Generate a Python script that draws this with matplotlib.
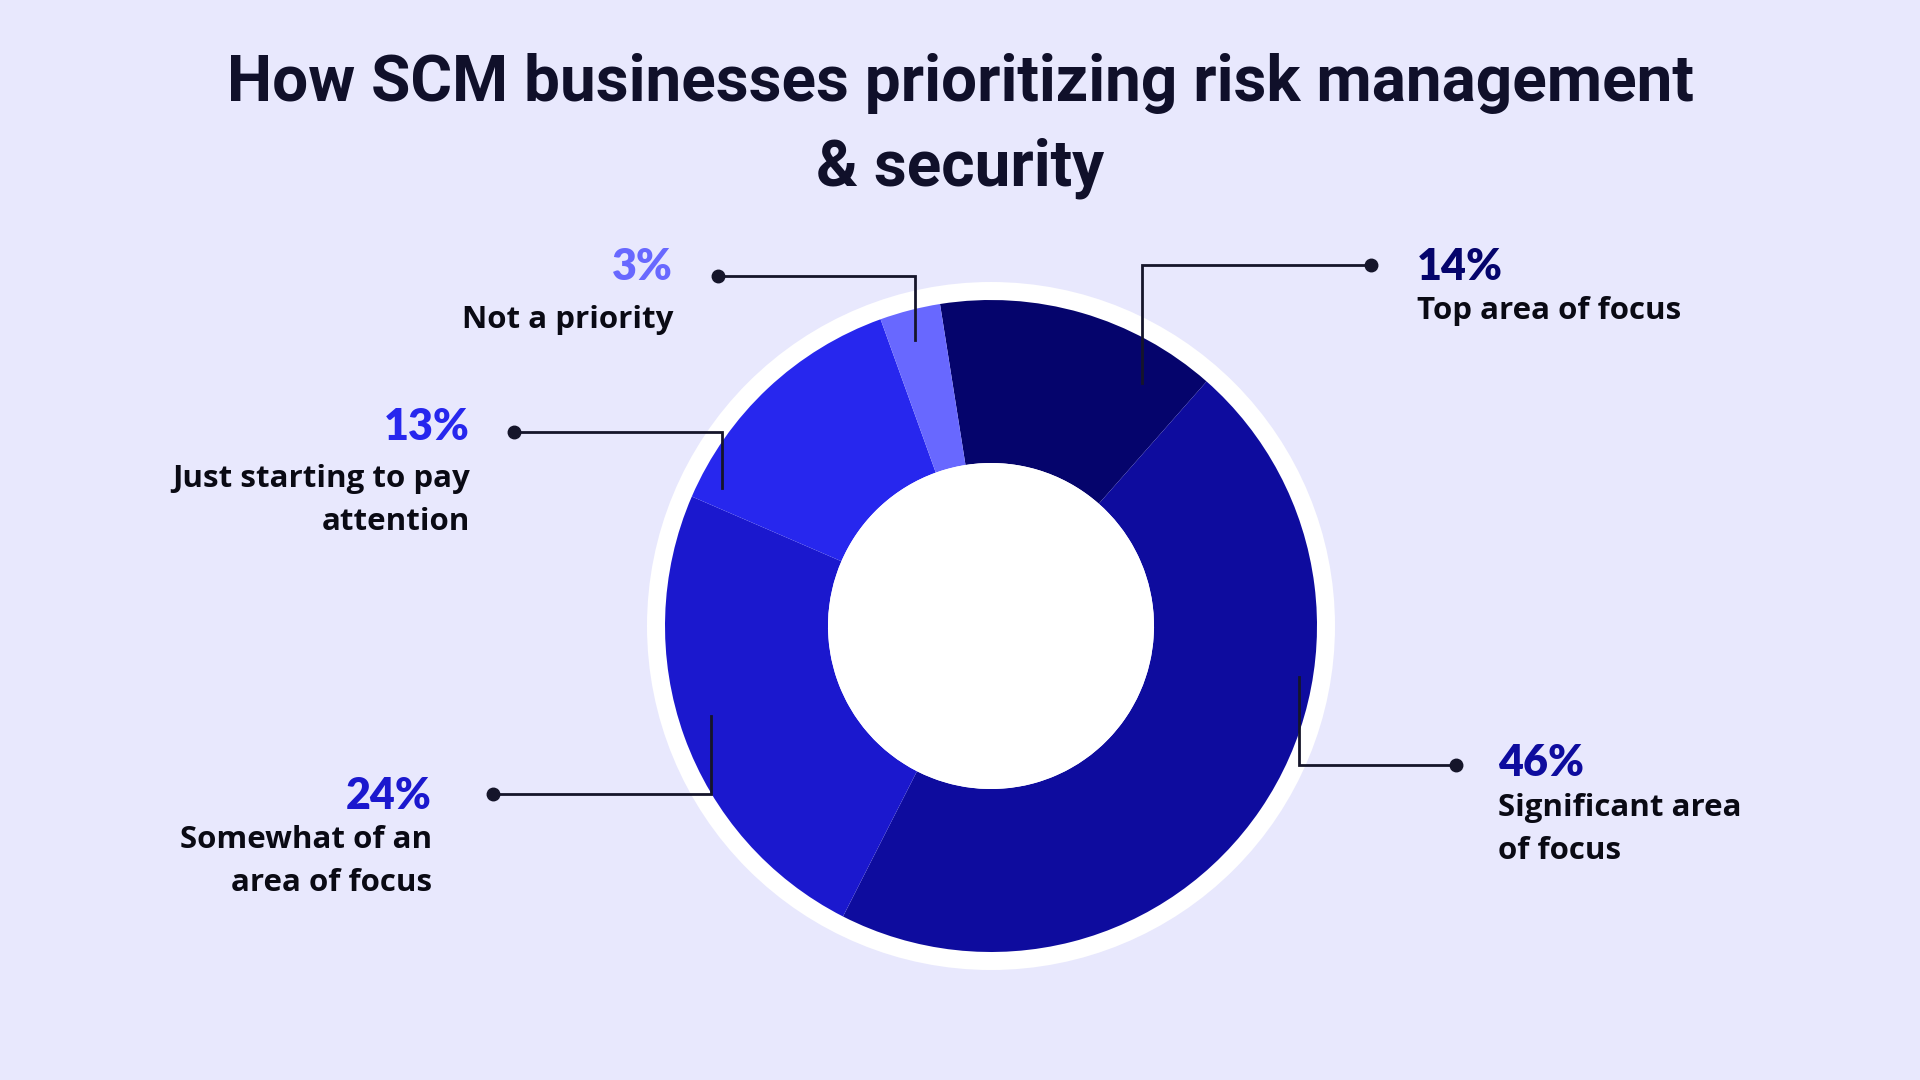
import matplotlib
matplotlib.use("Agg")
import matplotlib.pyplot as plt
from matplotlib.patches import Circle

# ---------------- data ----------------
categories = ["Top area of focus", "Significant area of focus",
              "Somewhat of an area of focus", "Just starting to pay attention",
              "Not a priority"]
values = [14, 46, 24, 13, 3]
label_lines = [["Top area of focus"],
               ["Significant area", "of focus"],
               ["Somewhat of an", "area of focus"],
               ["Just starting to pay", "attention"],
               ["Not a priority"]]
colors = ["#05046C", "#0E0C9E", "#1B18CE", "#2727EE", "#6868FF"]
title_lines = ["How SCM businesses prioritizing risk management", "& security"]

# ---------------- layout ----------------
W, H = 1920, 1080
BG = "#E8E8FD"
LINE = "#15152A"

def Y(y):  # convert top-down pixel coordinate to axes coordinate
    return H - y

fig = plt.figure(figsize=(19.2, 10.8), dpi=100)
fig.patch.set_facecolor(BG)
ax = fig.add_axes([0, 0, 1, 1])
ax.set_facecolor(BG)

cx, cy = 991, Y(626)
r_out, r_in, r_ring = 326, 163, 344

ax.add_patch(Circle((cx, cy), r_ring, color="white", zorder=0, lw=0))
ax.pie(values, colors=colors, startangle=99, counterclock=False,
       radius=r_out, center=(cx, cy),
       wedgeprops=dict(width=r_out - r_in, linewidth=0), frame=True)
ax.add_patch(Circle((cx, cy), r_in, color="white", zorder=3, lw=0))

# annotation layout: dot (x, y), elbow x, end y, text x, ha, pct y, first text line y
ann = [
    dict(dot=(1371, 265), ex=1142, ey=383, tx=1417, ha="left", py=267, ly=311),
    dict(dot=(1456, 765), ex=1299, ey=677, tx=1498, ha="left", py=763, ly=808),
    dict(dot=(493, 794), ex=711, ey=716, tx=432, ha="right", py=796, ly=840),
    dict(dot=(514, 432), ex=722, ey=488, tx=470, ha="right", py=427, ly=479),
    dict(dot=(718, 276), ex=915, ey=340, tx=673, ha="right", py=267, ly=320),
]

PCT_FONT = "Lato"
TXT_FONT = "Open Sans"
for v, lines, col, a in zip(values, label_lines, colors, ann):
    dx, dy = a["dot"]
    ax.plot([dx, a["ex"], a["ex"]], [Y(dy), Y(dy), Y(a["ey"])],
            color=LINE, lw=2.0, zorder=5, solid_joinstyle="miter")
    ax.plot([dx], [Y(dy)], "o", color=LINE, ms=9, zorder=6)
    ax.text(a["tx"], Y(a["py"]), f"{v}%", ha=a["ha"], va="center",
            fontsize=31, fontweight="heavy", color=col, family=PCT_FONT)
    for i, ln in enumerate(lines):
        ax.text(a["tx"], Y(a["ly"] + i * 43), ln, ha=a["ha"], va="center",
                fontsize=22.5, fontweight="bold", color="#0A0A14", family=TXT_FONT)

for i, t in enumerate(title_lines):
    ax.text(960, Y(84 + i * 84), t, ha="center", va="center", fontsize=46,
            fontweight="bold", color="#10102A", family="Roboto")

ax.set_xlim(0, W)
ax.set_ylim(0, H)
ax.set_aspect("equal")
ax.axis("off")

fig.savefig("out.png", dpi=100, facecolor=BG)
